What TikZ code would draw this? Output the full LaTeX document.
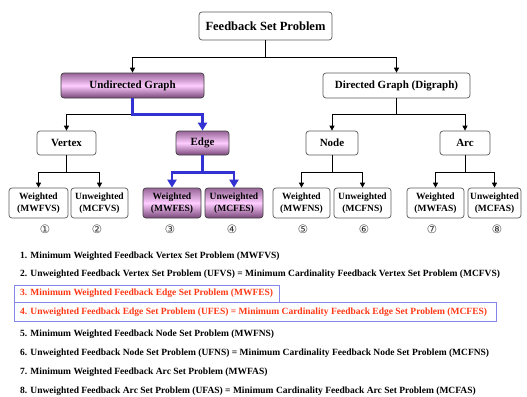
\documentclass[tikz,border=0pt]{standalone}
\usepackage{fontspec}
\setmainfont{Liberation Serif}
\newfontfamily\circfont{DejaVu Sans}
\usetikzlibrary{arrows.meta}
\definecolor{boxgray}{RGB}{90,90,90}
\definecolor{pdark}{RGB}{150,100,150}
\definecolor{pbot}{RGB}{120,70,120}
\definecolor{plight}{RGB}{255,205,255}
\definecolor{myblue}{RGB}{50,50,210}
\definecolor{myred}{RGB}{255,55,20}
\definecolor{frameblue}{RGB}{135,135,235}
\tikzset{
  wbox/.style={draw=boxgray, rounded corners=3pt, fill=white, line width=0.7pt,
    align=center, font=\bfseries, inner sep=0pt},
  pbox/.style={wbox, draw=boxgray!70!black, top color=pdark, bottom color=pbot, middle color=plight},
  lvtop/.style={minimum width=133pt, minimum height=28pt, font=\fontsize{12.5}{14}\bfseries},
  lvtwo/.style={minimum height=25pt, font=\fontsize{11}{13}\bfseries},
  lvthree/.style={minimum height=24pt, font=\fontsize{11}{13}\bfseries},
  lvfour/.style={minimum height=30pt, font=\fontsize{9.5}{12}\bfseries},
  arr/.style={draw=black, line width=0.8pt, -{Triangle[length=5pt,width=5pt]}},
  barr/.style={draw=myblue, line width=2.6pt, -{Triangle[length=8pt,width=9pt]}},
  circ/.style={font=\circfont\fontsize{11.5}{12}\selectfont, inner sep=0pt, text=black!80},
  litem/.style={anchor=west, inner sep=0pt, font=\fontsize{9.5}{11}\bfseries},
  frame/.style={draw=frameblue, line width=0.8pt}
}
\begin{document}
\begin{tikzpicture}[x=1pt,y=-1pt]
\useasboundingbox (0,0) rectangle (527,396);
% nodes
\node[wbox,lvtop] (top) at (265.5,26) {Feedback Set Problem};
\node[pbox,lvtwo,minimum width=143pt] (ug) at (132.5,85.5) {Undirected Graph};
\node[wbox,lvtwo,minimum width=147pt] (dg) at (396.5,85.5) {Directed Graph (Digraph)};
\node[wbox,lvthree,minimum width=59pt] (vx) at (66.5,143) {Vertex};
\node[pbox,lvthree,minimum width=53pt] (ed) at (202.5,143) {Edge};
\node[wbox,lvthree,minimum width=52pt] (nd) at (332,143) {Node};
\node[wbox,lvthree,minimum width=50pt] (ar) at (465,143) {Arc};
\node[wbox,lvfour,minimum width=59pt] (w1) at (38.5,203) {Weighted\\(MWFVS)};
\node[wbox,lvfour,minimum width=57pt] (u1) at (99.5,203) {Unweighted\\(MCFVS)};
\node[pbox,lvfour,minimum width=58pt] (w2) at (172,203) {Weighted\\(MWFES)};
\node[pbox,lvfour,minimum width=58pt] (u2) at (234,203) {Unweighted\\(MCFES)};
\node[wbox,lvfour,minimum width=57pt] (w3) at (301.5,203) {Weighted\\(MWFNS)};
\node[wbox,lvfour,minimum width=57pt] (u3) at (362.5,203) {Unweighted\\(MCFNS)};
\node[wbox,lvfour,minimum width=57pt] (w4) at (435.5,203) {Weighted\\(MWFAS)};
\node[wbox,lvfour,minimum width=53pt] (u4) at (494.5,203) {Unweighted\\(MCFAS)};
% connectors
\draw[arr] (top.south) -- ++(0,17) -| (ug.north);
\draw[arr] (top.south) -- ++(0,17) -| (dg.north);
\draw[arr] (ug.south) -- ++(0,16) -| (vx.north);
\draw[barr] (ug.south) -- ++(0,16) -| (ed.north);
\draw[arr] (dg.south) -- ++(0,16) -| (nd.north);
\draw[arr] (dg.south) -- ++(0,16) -| (ar.north);
\draw[arr] (vx.south) -- ++(0,17) -| (w1.north);
\draw[arr] (vx.south) -- ++(0,17) -| (u1.north);
\draw[barr] (ed.south) -- ++(0,17) -| (w2.north);
\draw[barr] (ed.south) -- ++(0,17) -| (u2.north);
\draw[arr] (nd.south) -- ++(0,17) -| (w3.north);
\draw[arr] (nd.south) -- ++(0,17) -| (u3.north);
\draw[arr] (ar.south) -- ++(0,17) -| (w4.north);
\draw[arr] (ar.south) -- ++(0,17) -| (u4.north);
% circled numbers
\node[circ] (n1) at (45,229) {①};
\node[circ] (n2) at (97,229) {②};
\node[circ] (n3) at (170,229) {③};
\node[circ] (n4) at (232,229) {④};
\node[circ] (n5) at (303,229) {⑤};
\node[circ] (n6) at (364,229) {⑥};
\node[circ] (n7) at (432,229) {⑦};
\node[circ] (n8) at (497,229) {⑧};
% list
\draw[frame] (14,285) rectangle (279,302);
\draw[frame] (14,302) rectangle (496,321);
\node[litem] (l1) at (20,256) {1. Minimum Weighted Feedback Vertex Set Problem (MWFVS)};
\node[litem] (l2) at (20,274) {2. Unweighted Feedback Vertex Set Problem (UFVS) = Minimum Cardinality Feedback Vertex Set Problem (MCFVS)};
\node[litem,text=myred] (l3) at (20,293.5) {3. Minimum Weighted Feedback Edge Set Problem (MWFES)};
\node[litem,text=myred] (l4) at (20,312.5) {4. Unweighted Feedback Edge Set Problem (UFES) = Minimum Cardinality Feedback Edge Set Problem (MCFES)};
\node[litem] (l5) at (20,334) {5. Minimum Weighted Feedback Node Set Problem (MWFNS)};
\node[litem] (l6) at (20,353) {6. Unweighted Feedback Node Set Problem (UFNS) = Minimum Cardinality Feedback Node Set Problem (MCFNS)};
\node[litem] (l7) at (20,372) {7. Minimum Weighted Feedback Arc Set Problem (MWFAS)};
\node[litem] (l8) at (20,391) {8. Unweighted Feedback Arc Set Problem (UFAS) = Minimum Cardinality Feedback Arc Set Problem (MCFAS)};
\end{tikzpicture}
\end{document}
